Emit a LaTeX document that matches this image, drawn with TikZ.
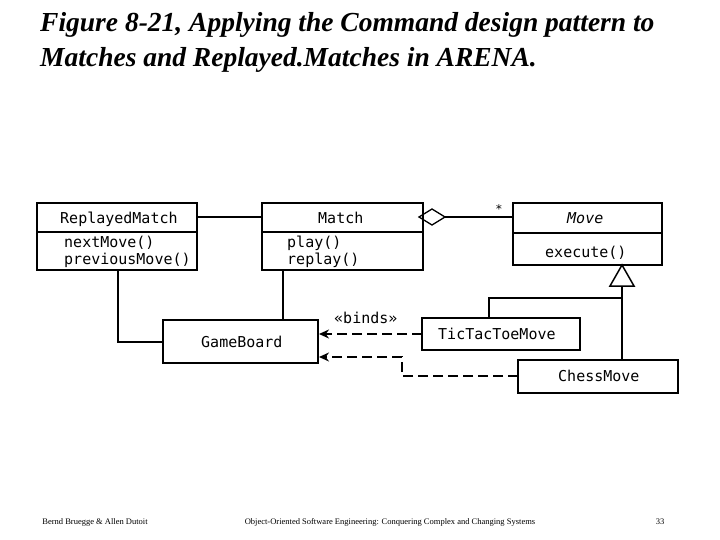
\documentclass[tikz,border=0pt]{standalone}
\usepackage{fontspec}
\setmainfont{Liberation Serif}
\newfontfamily\monof{DejaVu Sans Mono}
\usetikzlibrary{arrows.meta}
\begin{document}
\begin{tikzpicture}[x=1pt,y=-1pt,
 box/.style={draw,line width=1.2pt},
 ln/.style={line width=1.3pt},
 dep/.style={line width=2pt,dash pattern=on 10pt off 5pt,-{Stealth[length=10pt,width=9pt]}},
 lbl/.style={font=\monof\fontsize{15}{17}\selectfont,inner sep=0pt,anchor=base west}]
\useasboundingbox (0,0) rectangle (720,540);
\node[anchor=north west,align=left,inner sep=0pt,font=\fontsize{27.5}{35}\selectfont\bfseries\itshape] (title) at (40,12) {Figure 8-21, Applying the Command design pattern to\\Matches and Replayed.Matches in ARENA.};
% boxes
\draw[box] (37,203) rectangle (197,270); \draw[ln] (37,232)--(197,232);
\node[lbl] (rm) at (60,223) {ReplayedMatch};
\node[lbl,align=left,anchor=north west] (rmo) at (64,236) {nextMove()\\previousMove()};
\draw[box] (262,203) rectangle (423,270); \draw[ln] (262,232)--(423,232);
\node[lbl] (m) at (318,223) {Match};
\node[lbl,align=left,anchor=north west] (mo) at (287,236) {play()\\replay()};
\draw[box] (513,203) rectangle (662,265); \draw[ln] (513,233)--(662,233);
\node[lbl,font=\monof\itshape\fontsize{15}{17}\selectfont] (mv) at (567,224) {Move};
\node[lbl] (mvo) at (545,257) {execute()};
\draw[box] (163,320) rectangle (318,363); \node[lbl] (gb) at (201,347) {GameBoard};
\draw[box] (422,318) rectangle (580,350); \node[lbl] (tt) at (438,339) {TicTacToeMove};
\draw[box] (518,360) rectangle (678,393); \node[lbl] (cm) at (558,381) {ChessMove};
% associations
\draw[ln] (197,217)--(262,217);
\draw[ln] (419,217)--(432,209)--(445,217)--(432,225)--cycle;
\draw[ln] (445,217)--(513,217);
\node[inner sep=0pt,font=\monof\fontsize{12}{12}\selectfont] (star) at (499,209) {*};
\draw[ln] (118,270)--(118,342)--(163,342);
\draw[ln] (283,270)--(283,320);
% generalization
\draw[line width=1.5pt] (622,265)--(634,286)--(610,286)--cycle;
\draw[ln] (622,286)--(622,360);
\draw[ln] (489,318)--(489,298)--(622,298);
% dependencies
\draw[dep] (422,334)--(319,334);
\draw[dep] (518,376)--(402,376)--(402,357)--(319,357);
\node[lbl] (binds) at (334,323) {«binds»};
% footer
\node[inner sep=0pt,font=\fontsize{8.5}{10}\selectfont] (f1) at (95,522) {Bernd Bruegge \& Allen Dutoit};
\node[inner sep=0pt,font=\fontsize{8.5}{10}\selectfont] (f2) at (390,522) {Object-Oriented Software Engineering: Conquering Complex and Changing Systems};
\node[inner sep=0pt,font=\fontsize{8.5}{10}\selectfont] (f3) at (660,522) {33};
\end{tikzpicture}
\end{document}
